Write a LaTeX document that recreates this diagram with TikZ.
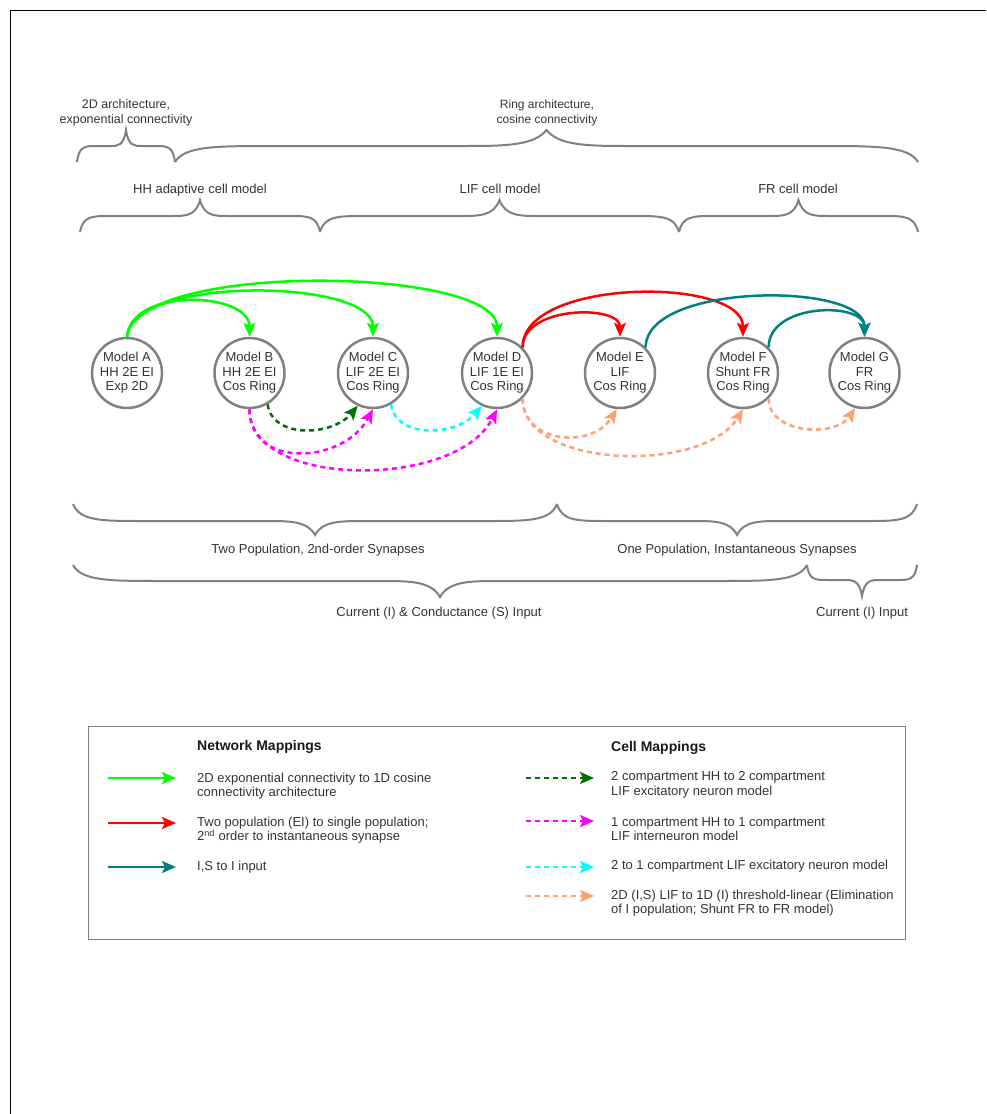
\documentclass[tikz,border=0pt]{standalone}
\usepackage{fontspec}
\setmainfont{Liberation Sans}
\usetikzlibrary{arrows.meta}

\definecolor{txtgray}{HTML}{333333}
\definecolor{bracegray}{HTML}{808080}
\definecolor{netgreen}{HTML}{00FF00}
\definecolor{netred}{HTML}{FF0000}
\definecolor{netteal}{HTML}{008080}
\definecolor{celldkgreen}{HTML}{007000}
\definecolor{cellmagenta}{HTML}{FF00FF}
\definecolor{cellcyan}{HTML}{00FFFF}
\definecolor{cellorange}{HTML}{FFA070}

% curly brace: x1, x2, y of ends, y of flat part, y of tip, end curl, tip curl
\newcommand{\gbrace}[7]{%
  \pgfmathsetmacro{\bmid}{(#1+#2)/2}
  \draw[brace] (#1,#3) .. controls ({#1+0.1*#6},#4) and ({#1+0.4*#6},#4) .. ({#1+#6},#4)
    -- ({\bmid-#7},#4) .. controls ({\bmid-0.5*#7},#4) and ({\bmid-0.15*#7},#4) .. (\bmid,#5)
    .. controls ({\bmid+0.15*#7},#4) and ({\bmid+0.5*#7},#4) .. ({\bmid+#7},#4)
    -- ({#2-#6},#4) .. controls ({#2-0.4*#6},#4) and ({#2-0.1*#6},#4) .. (#2,#3);
}

\begin{document}
\begin{tikzpicture}[x=1pt, y=-1pt,
  brace/.style={draw=bracegray, line width=2pt},
  model/.style={circle, draw=bracegray, line width=2.5pt, minimum size=70pt, inner sep=0pt,
    align=center, text=txtgray, font=\fontsize{13}{14.5}\selectfont},
  lbl/.style={align=center, text=txtgray, font=\fontsize{13}{14.5}\selectfont},
  leg/.style={align=left, anchor=west, inner sep=0pt, text=txtgray, font=\fontsize{13}{14.5}\selectfont},
  head/.style={anchor=west, inner sep=0pt, text=black!90, font=\fontsize{14}{16}\selectfont\bfseries},
  net/.style={line width=2.5pt, -{Stealth[length=14pt,width=12pt,inset=3pt]}},
  cell/.style={net, dash pattern=on 5pt off 4pt}]
\useasboundingbox (0,0) rectangle (986,1114);
\draw[line width=1pt] (986,10) -- (10,10) -- (10,1114);

% braces on top
\gbrace{77}{175}{162}{146}{130}{20}{16}
\gbrace{175}{918}{162}{146}{130}{100}{85}
\gbrace{80}{320}{232}{216}{200}{30}{28}
\gbrace{320}{679}{232}{216}{200}{45}{40}
\gbrace{679}{918}{232}{216}{200}{35}{30}
\node[lbl, font=\fontsize{12.5}{14.5}\selectfont] (arch2d) at (126,113) {2D architecture,\\exponential connectivity};
\node[lbl, font=\fontsize{12}{14.5}\selectfont] (archring) at (547,113) {Ring architecture,\\cosine connectivity};
\node[lbl] (cellhh) at (200,190) {HH adaptive cell model};
\node[lbl] (celllif) at (500,189) {LIF cell model};
\node[lbl] (cellfr) at (798,189) {FR cell model};

% models
\node[model] (mA) at (127,373) {Model A\\HH 2E EI\\Exp 2D};
\node[model] (mB) at (249.5,373) {Model B\\HH 2E EI\\Cos Ring};
\node[model] (mC) at (373,373) {Model C\\LIF 2E EI\\Cos Ring};
\node[model] (mD) at (497,373) {Model D\\LIF 1E EI\\Cos Ring};
\node[model] (mE) at (620,373) {Model E\\LIF\\Cos Ring};
\node[model] (mF) at (743,373) {Model F\\Shunt FR\\Cos Ring};
\node[model] (mG) at (864.5,373) {Model G\\FR\\Cos Ring};

% network mappings
\draw[net, netgreen] (mA.north) .. controls +(4,-50) and +(0,-45) .. (mB.north);
\draw[net, netgreen] (mA.north) .. controls +(6,-62) and +(0,-58) .. (mC.north);
\draw[net, netgreen] (mA.north) .. controls +(8,-76) and +(0,-70) .. (mD.north);
\draw[net, netred] (mD.45) .. controls +(0,-42) and +(0,-32) .. (mE.north);
\draw[net, netred] (mD.45) .. controls +(0,-70) and +(0,-60) .. (mF.north);
\draw[net, netteal] (mE.45) .. controls +(0,-65) and +(0,-55) .. (mG.north);
\draw[net, netteal] (mF.45) .. controls +(0,-45) and +(0,-35) .. (mG.north);

% cell mappings
\draw[cell, celldkgreen] (mB.-60) .. controls +(5,35) and +(-25,30) .. (mC.-115);
\draw[cell, cellmagenta] (mB.south) .. controls +(0,60) and +(-30,55) .. (mC.south);
\draw[cell, cellmagenta] (mB.south) .. controls +(0,80) and +(-40,80) .. (mD.south);
\draw[cell, cellcyan] (mC.-60) .. controls +(5,35) and +(-25,30) .. (mD.-115);
\draw[cell, cellorange] (mD.-45) .. controls +(0,45) and +(-25,40) .. (mE.-95);
\draw[cell, cellorange] (mD.-45) .. controls +(0,70) and +(-40,65) .. (mF.south);
\draw[cell, cellorange] (mF.-45) .. controls +(0,35) and +(-20,30) .. (mG.-105);

% braces below
\gbrace{73}{557}{504}{521}{535}{70}{50}
\gbrace{557}{917}{504}{521}{535}{50}{45}
\gbrace{73}{807}{565}{581}{597}{90}{60}
\gbrace{807}{917}{565}{580}{596}{20}{18}
\node[lbl] (twopop) at (318,550) {Two Population, 2nd-order Synapses};
\node[lbl] (onepop) at (737,550) {One Population, Instantaneous Synapses};
\node[lbl] (inIS) at (439,613) {Current (I) \& Conductance (S) Input};
\node[lbl] (inI) at (862,613) {Current (I) Input};

% legend
\draw[bracegray, line width=1pt] (88,726) rectangle (905,939);
\node[head] (nethead) at (197,747) {Network Mappings};
\node[head] (cellhead) at (611,748) {Cell Mappings};

\coordinate (ng1) at (108,778); \coordinate (ng2) at (176,778);
\coordinate (nr1) at (108,823); \coordinate (nr2) at (176,823);
\coordinate (nt1) at (108,867); \coordinate (nt2) at (176,867);
\draw[net, netgreen] (ng1) -- (ng2);
\draw[net, netred] (nr1) -- (nr2);
\draw[net, netteal] (nt1) -- (nt2);
\node[leg] (netgtxt) at (197,786) {2D exponential connectivity to 1D cosine\\connectivity architecture};
\node[leg] (netrtxt) at (197,830) {Two population (EI) to single population;\\2\textsuperscript{nd} order to instantaneous synapse};
\node[leg] (netttxt) at (197,867) {I,S to I input};

\coordinate (cg1) at (526,778); \coordinate (cg2) at (594,778);
\coordinate (cm1) at (526,821); \coordinate (cm2) at (594,821);
\coordinate (cc1) at (526,867); \coordinate (cc2) at (594,867);
\coordinate (co1) at (526,896); \coordinate (co2) at (594,896);
\draw[cell, celldkgreen] (cg1) -- (cg2);
\draw[cell, cellmagenta] (cm1) -- (cm2);
\draw[cell, cellcyan] (cc1) -- (cc2);
\draw[cell, cellorange] (co1) -- (co2);
\node[leg] (cellgtxt) at (611,785) {2 compartment HH to 2 compartment\\LIF excitatory neuron model};
\node[leg] (cellmtxt) at (611,829) {1 compartment HH to 1 compartment\\LIF interneuron model};
\node[leg] (cellctxt) at (611,866) {2 to 1 compartment LIF excitatory neuron model};
\node[leg] (cellotxt) at (611,903) {2D (I,S) LIF to 1D (I) threshold-linear (Elimination\\of I population; Shunt FR to FR model)};
\end{tikzpicture}
\end{document}
